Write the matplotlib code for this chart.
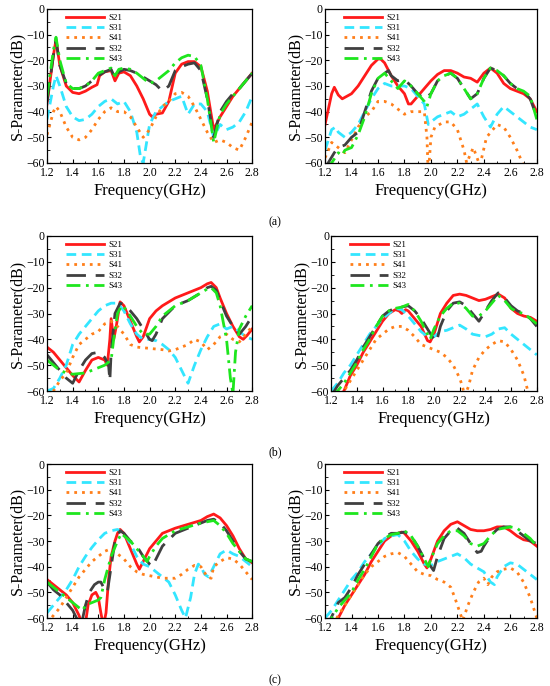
import matplotlib
matplotlib.use("Agg")
import matplotlib.pyplot as plt
from matplotlib.ticker import MultipleLocator

plt.rcParams["font.family"] = ["Liberation Serif", "DejaVu Serif"]

SERIES = ["S21", "S31", "S41", "S32", "S43"]
PANEL_LABELS = ["(a)", "(b)", "(c)"]

# ---- panel (a) left: (frequency GHz, dB) ----
A1_S21 = [(1.20, -37), (1.25, -18), (1.27, -12), (1.30, -22), (1.35, -30), (1.40, -32.5),
          (1.45, -33), (1.50, -32), (1.55, -30.5), (1.59, -29.5), (1.61, -26), (1.65, -24.5),
          (1.70, -24), (1.73, -28), (1.76, -25), (1.80, -24.5), (1.85, -26), (1.90, -30),
          (1.95, -35), (2.00, -41), (2.02, -42), (2.05, -41), (2.10, -40.5), (2.15, -36),
          (2.20, -25), (2.25, -21.5), (2.30, -20.5), (2.35, -20.5), (2.40, -22.5), (2.45, -32),
          (2.50, -47), (2.55, -42), (2.60, -38), (2.65, -34), (2.70, -31), (2.75, -28), (2.80, -25)]
A1_S31 = [(1.20, -43), (1.25, -30), (1.27, -26), (1.30, -30), (1.35, -38), (1.40, -42),
          (1.45, -43.5), (1.50, -43), (1.55, -41), (1.60, -38), (1.65, -36), (1.70, -35),
          (1.75, -37), (1.80, -36), (1.85, -40), (1.90, -48), (1.93, -58), (1.95, -60),
          (2.00, -45), (2.05, -40), (2.10, -38), (2.15, -36), (2.20, -35), (2.25, -34),
          (2.30, -41), (2.35, -37), (2.40, -37), (2.45, -40), (2.50, -50), (2.55, -45),
          (2.60, -47), (2.65, -46), (2.70, -44), (2.75, -40), (2.80, -34)]
A1_S41 = [(1.20, -49), (1.25, -40), (1.27, -38), (1.30, -40), (1.35, -46), (1.40, -50),
          (1.45, -51), (1.50, -50), (1.55, -47), (1.60, -43), (1.65, -40), (1.70, -38.5),
          (1.75, -40), (1.80, -40), (1.85, -42), (1.90, -46), (1.95, -50), (2.00, -47),
          (2.05, -42), (2.10, -38), (2.15, -36), (2.20, -33), (2.25, -32.5), (2.30, -34),
          (2.35, -38), (2.40, -43), (2.45, -48), (2.50, -52), (2.55, -51), (2.60, -52),
          (2.65, -54), (2.70, -55), (2.75, -50), (2.80, -44)]
A1_S32 = [(1.20, -36), (1.25, -18), (1.27, -12), (1.30, -22), (1.35, -29), (1.40, -31),
          (1.45, -31), (1.50, -30), (1.55, -28), (1.60, -26), (1.65, -24.5), (1.70, -23.5),
          (1.73, -27), (1.76, -24.5), (1.80, -23.5), (1.85, -24), (1.90, -25), (1.95, -26.5),
          (2.00, -28), (2.05, -29.5), (2.10, -32), (2.15, -30), (2.20, -24), (2.25, -22.5),
          (2.30, -21.5), (2.35, -21), (2.40, -24), (2.45, -35), (2.50, -50), (2.55, -40),
          (2.60, -36), (2.65, -33), (2.70, -31), (2.75, -28), (2.80, -25)]
A1_S43 = [(1.20, -34), (1.25, -16), (1.27, -11), (1.30, -20), (1.35, -29), (1.40, -31),
          (1.45, -31), (1.50, -30), (1.55, -28), (1.60, -25), (1.65, -24), (1.70, -23),
          (1.73, -26), (1.76, -23.5), (1.80, -23), (1.85, -23.5), (1.90, -25), (1.95, -27),
          (2.00, -29), (2.05, -28), (2.10, -26), (2.15, -24), (2.20, -21), (2.25, -19),
          (2.30, -18), (2.35, -18.5), (2.40, -22), (2.45, -35), (2.50, -52), (2.55, -41),
          (2.60, -37), (2.65, -34), (2.70, -31), (2.75, -28), (2.80, -25)]

# ---- panel (a) right ----
A2_S21 = [(1.20, -45), (1.25, -33), (1.27, -30.5), (1.30, -33.5), (1.33, -35), (1.40, -33),
          (1.45, -30), (1.50, -26), (1.55, -22), (1.60, -19.5), (1.62, -19.5), (1.65, -21),
          (1.70, -26), (1.75, -30), (1.80, -33), (1.83, -37), (1.85, -37), (1.90, -34),
          (1.95, -31), (2.00, -28), (2.05, -25.5), (2.10, -24), (2.15, -24), (2.20, -25),
          (2.25, -26.5), (2.30, -27), (2.35, -28.5), (2.40, -25), (2.45, -23), (2.50, -25),
          (2.55, -29), (2.60, -31), (2.65, -32), (2.70, -33), (2.75, -35), (2.80, -40)]
A2_S31 = [(1.20, -55), (1.25, -47), (1.28, -46), (1.30, -48), (1.35, -50), (1.40, -48),
          (1.45, -45), (1.50, -40), (1.55, -35), (1.60, -31), (1.65, -29), (1.70, -30),
          (1.75, -30), (1.80, -30), (1.85, -31), (1.90, -34), (1.95, -37), (1.98, -45),
          (2.00, -44), (2.05, -42), (2.10, -41), (2.15, -40), (2.20, -42), (2.25, -41),
          (2.30, -39), (2.35, -37), (2.40, -42), (2.45, -46), (2.50, -41), (2.55, -38),
          (2.60, -40), (2.65, -42), (2.70, -44), (2.75, -46), (2.80, -47)]
A2_S41 = [(1.20, -58), (1.25, -52), (1.30, -54), (1.35, -56), (1.40, -51), (1.45, -46),
          (1.50, -42), (1.55, -40), (1.60, -36), (1.65, -36), (1.70, -37), (1.75, -39),
          (1.80, -41), (1.85, -40), (1.90, -40), (1.95, -40), (1.97, -50), (1.98, -65),
          (2.00, -50), (2.03, -46), (2.10, -44), (2.15, -44), (2.20, -47), (2.25, -55),
          (2.27, -60), (2.32, -54), (2.37, -61), (2.42, -50), (2.50, -45), (2.55, -46),
          (2.60, -50), (2.65, -55), (2.70, -61), (2.75, -66)]
A2_S32 = [(1.20, -62), (1.27, -56), (1.30, -54), (1.35, -53), (1.40, -50), (1.45, -48),
          (1.50, -40), (1.55, -32), (1.60, -27), (1.65, -25), (1.68, -24), (1.70, -26),
          (1.75, -28), (1.80, -27.5), (1.85, -30), (1.90, -33), (1.95, -35), (2.00, -33),
          (2.05, -28), (2.10, -26), (2.15, -25), (2.20, -27), (2.25, -31), (2.30, -35),
          (2.35, -33), (2.40, -27), (2.45, -23), (2.50, -24), (2.55, -26), (2.60, -29),
          (2.65, -31), (2.70, -32), (2.75, -35), (2.80, -42)]
A2_S43 = [(1.20, -62), (1.25, -60), (1.30, -56), (1.33, -57), (1.35, -55), (1.40, -54),
          (1.45, -49), (1.50, -42), (1.55, -33), (1.60, -27), (1.65, -25), (1.70, -28),
          (1.75, -31), (1.80, -28), (1.85, -30), (1.90, -33), (1.95, -36), (1.97, -38),
          (2.00, -33), (2.05, -28), (2.10, -26), (2.15, -25), (2.20, -27), (2.25, -31),
          (2.30, -35), (2.35, -33), (2.40, -27), (2.45, -23), (2.50, -24), (2.55, -26),
          (2.60, -29), (2.65, -31), (2.70, -32), (2.75, -34), (2.80, -43)]

# ---- panel (b) left ----
B1_S21 = [(1.20, -43), (1.25, -45), (1.30, -48), (1.35, -51), (1.40, -54), (1.45, -56.5),
          (1.50, -52), (1.55, -48), (1.60, -47), (1.65, -48), (1.67, -50), (1.69, -40),
          (1.70, -32), (1.72, -40), (1.74, -35), (1.77, -25.5), (1.80, -27), (1.85, -33),
          (1.90, -39), (1.92, -41), (1.95, -39), (2.00, -32), (2.05, -29), (2.10, -27),
          (2.20, -24), (2.30, -22), (2.40, -20), (2.45, -18.5), (2.48, -18), (2.52, -20),
          (2.55, -24), (2.60, -30), (2.65, -35), (2.70, -39), (2.73, -40), (2.76, -38.5),
          (2.80, -36)]
B1_S31 = [(1.20, -60), (1.25, -59), (1.30, -55), (1.35, -50), (1.40, -42), (1.45, -38),
          (1.50, -35), (1.55, -32), (1.60, -29), (1.65, -27), (1.70, -26), (1.75, -26),
          (1.80, -29), (1.85, -34), (1.90, -38), (1.95, -40), (2.00, -40), (2.05, -40.5),
          (2.10, -42), (2.15, -44), (2.20, -47), (2.25, -52), (2.30, -57), (2.35, -50),
          (2.40, -44), (2.45, -39), (2.50, -35), (2.55, -34), (2.60, -36), (2.65, -35),
          (2.70, -37), (2.75, -39), (2.80, -40)]
B1_S41 = [(1.20, -62), (1.25, -60), (1.30, -56), (1.35, -53), (1.40, -47), (1.45, -42),
          (1.50, -40), (1.55, -38), (1.60, -37), (1.65, -34), (1.70, -33), (1.75, -35),
          (1.80, -38), (1.85, -42), (1.90, -43), (2.00, -43.5), (2.10, -44), (2.15, -44.5),
          (2.20, -44), (2.30, -42), (2.35, -40), (2.40, -41), (2.45, -44), (2.50, -42),
          (2.55, -39), (2.60, -38), (2.65, -40), (2.70, -41), (2.75, -38), (2.80, -35)]
B1_S32 = [(1.20, -46), (1.25, -49), (1.30, -52), (1.35, -55), (1.40, -57), (1.45, -52),
          (1.50, -48), (1.55, -45.5), (1.60, -45), (1.65, -47), (1.68, -50), (1.69, -56),
          (1.70, -45), (1.73, -30), (1.77, -26), (1.80, -26.5), (1.85, -29), (1.90, -32),
          (1.95, -36), (2.00, -40), (2.02, -40.5), (2.05, -38), (2.10, -32), (2.20, -27),
          (2.30, -25), (2.40, -22), (2.45, -20), (2.48, -19.5), (2.52, -21), (2.55, -25),
          (2.60, -31), (2.65, -35), (2.70, -38), (2.75, -35), (2.80, -31)]
B1_S43 = [(1.20, -48), (1.25, -50), (1.30, -52), (1.35, -53), (1.40, -53.5), (1.50, -53),
          (1.55, -52), (1.60, -51), (1.65, -50), (1.70, -48), (1.72, -40), (1.75, -30),
          (1.78, -27), (1.80, -27.5), (1.85, -31), (1.90, -35), (1.95, -38), (2.00, -38),
          (2.05, -35), (2.10, -31), (2.20, -27), (2.30, -25), (2.40, -22), (2.45, -20.5),
          (2.48, -20), (2.52, -22), (2.55, -27), (2.60, -40), (2.63, -55), (2.65, -61),
          (2.67, -45), (2.70, -36), (2.75, -31), (2.80, -27)]

# ---- panel (b) right ----
B2_S21 = [(1.20, -65), (1.30, -60), (1.35, -54), (1.40, -50), (1.45, -45), (1.50, -41),
          (1.55, -37), (1.60, -33), (1.65, -30), (1.70, -28.5), (1.73, -29), (1.75, -30),
          (1.78, -28.5), (1.80, -29), (1.85, -32), (1.90, -35), (1.95, -40.5), (1.97, -41),
          (2.00, -38), (2.05, -30), (2.10, -26), (2.15, -23), (2.20, -22.5), (2.25, -23),
          (2.30, -24), (2.35, -25), (2.40, -24.5), (2.45, -23.5), (2.50, -22.5), (2.55, -24),
          (2.60, -28), (2.65, -30), (2.70, -31), (2.75, -31.5), (2.80, -33)]
B2_S31 = [(1.20, -60), (1.25, -57), (1.30, -53), (1.35, -50), (1.40, -46), (1.45, -42),
          (1.50, -38), (1.55, -35), (1.60, -32), (1.65, -30), (1.70, -28), (1.75, -28.5),
          (1.80, -31), (1.85, -34), (1.90, -37), (1.95, -39), (2.00, -39), (2.05, -37),
          (2.10, -36.5), (2.15, -35.5), (2.20, -34.5), (2.25, -36), (2.30, -38), (2.35, -38.5),
          (2.40, -39), (2.45, -38), (2.50, -36), (2.55, -35.5), (2.60, -38), (2.65, -40),
          (2.70, -42), (2.75, -44), (2.80, -46)]
B2_S41 = [(1.20, -70), (1.30, -60), (1.35, -56), (1.40, -52), (1.45, -48), (1.50, -44),
          (1.55, -40), (1.60, -38), (1.65, -36), (1.70, -35), (1.75, -35), (1.80, -36.5),
          (1.85, -39), (1.90, -42), (1.95, -43), (2.00, -44), (2.05, -45), (2.10, -47),
          (2.15, -50), (2.20, -55), (2.22, -58), (2.24, -62), (2.27, -58), (2.30, -52),
          (2.35, -47), (2.40, -44), (2.45, -42), (2.50, -40.5), (2.55, -41), (2.60, -44),
          (2.65, -48), (2.70, -54), (2.73, -60), (2.75, -64)]
B2_S32 = [(1.20, -62), (1.25, -58), (1.30, -55), (1.35, -52), (1.40, -48), (1.45, -43),
          (1.50, -39), (1.55, -35), (1.60, -31), (1.65, -29), (1.70, -28), (1.75, -27.5),
          (1.80, -27), (1.85, -29), (1.90, -32), (1.95, -36), (2.00, -40), (2.02, -41),
          (2.05, -35), (2.10, -29), (2.15, -26), (2.20, -25.5), (2.25, -27), (2.30, -30),
          (2.35, -33), (2.40, -29), (2.45, -25), (2.50, -22), (2.55, -24), (2.60, -27),
          (2.65, -29), (2.70, -30), (2.75, -32), (2.80, -35)]
B2_S43 = [(1.20, -62), (1.25, -60), (1.30, -57), (1.35, -53), (1.40, -49), (1.45, -44),
          (1.50, -40), (1.55, -35), (1.60, -31), (1.65, -29), (1.70, -28), (1.75, -27.5),
          (1.80, -26.5), (1.85, -29), (1.90, -33), (1.95, -38), (1.97, -40), (2.00, -36),
          (2.05, -31), (2.10, -28), (2.15, -26), (2.20, -26), (2.25, -28), (2.30, -31),
          (2.35, -31), (2.40, -29), (2.45, -26), (2.50, -23), (2.55, -25), (2.60, -28),
          (2.65, -29.5), (2.70, -30), (2.75, -32), (2.80, -34)]

# ---- panel (c) left ----
C1_S21 = [(1.20, -45), (1.25, -47), (1.30, -49), (1.35, -51), (1.40, -54), (1.45, -59),
          (1.47, -62), (1.50, -62), (1.52, -55), (1.55, -51), (1.58, -50), (1.60, -52),
          (1.62, -58), (1.64, -63), (1.66, -58), (1.68, -45), (1.70, -36), (1.73, -30),
          (1.75, -27), (1.77, -25.5), (1.80, -27), (1.85, -33), (1.90, -39), (1.92, -41),
          (1.95, -38), (2.00, -33), (2.05, -30), (2.10, -27), (2.20, -25), (2.30, -23.5),
          (2.40, -22), (2.45, -20.5), (2.50, -19.5), (2.55, -21), (2.60, -24), (2.65, -28),
          (2.70, -33), (2.75, -37), (2.80, -38.5)]
C1_S31 = [(1.20, -58), (1.25, -55), (1.30, -52), (1.35, -49), (1.40, -45), (1.45, -40),
          (1.50, -36), (1.55, -32.5), (1.60, -29.5), (1.65, -27), (1.70, -26), (1.75, -25.5),
          (1.80, -27), (1.85, -31), (1.90, -36), (1.95, -39), (2.00, -40), (2.05, -42),
          (2.10, -44), (2.15, -46), (2.20, -51), (2.25, -57), (2.28, -60), (2.32, -52),
          (2.35, -43), (2.38, -39), (2.40, -40), (2.43, -43), (2.46, -44), (2.50, -40),
          (2.55, -35), (2.60, -33.5), (2.65, -35), (2.70, -36), (2.75, -38), (2.80, -40)]
C1_S41 = [(1.20, -62), (1.25, -59), (1.30, -56), (1.35, -52), (1.40, -48), (1.45, -44),
          (1.50, -41), (1.55, -38), (1.60, -36), (1.65, -34), (1.70, -33), (1.75, -35),
          (1.80, -37), (1.85, -40), (1.90, -42), (1.95, -43), (2.00, -43.5), (2.10, -44.5),
          (2.20, -44.5), (2.25, -43), (2.30, -41), (2.35, -39.5), (2.40, -40), (2.45, -44),
          (2.48, -44.5), (2.50, -40), (2.55, -38), (2.60, -36.5), (2.65, -37), (2.70, -39),
          (2.75, -42), (2.80, -45)]
C1_S32 = [(1.20, -46), (1.25, -49), (1.30, -51), (1.35, -54), (1.40, -57), (1.43, -60),
          (1.47, -62), (1.50, -55), (1.53, -50), (1.57, -47), (1.60, -46), (1.62, -46),
          (1.65, -49), (1.67, -50), (1.70, -40), (1.73, -30), (1.77, -26), (1.80, -27),
          (1.85, -30), (1.90, -32), (1.95, -36), (2.00, -39), (2.02, -40), (2.05, -37),
          (2.10, -32), (2.20, -27), (2.30, -25), (2.40, -23), (2.45, -22), (2.50, -21.5),
          (2.55, -23), (2.60, -26), (2.65, -30), (2.70, -34), (2.75, -37), (2.80, -38)]
C1_S43 = [(1.20, -46), (1.25, -48), (1.30, -50), (1.35, -52), (1.40, -54), (1.45, -56),
          (1.48, -57), (1.50, -55), (1.55, -54), (1.60, -53), (1.62, -52), (1.65, -45),
          (1.70, -36), (1.75, -30), (1.78, -27), (1.80, -28), (1.85, -30), (1.90, -33),
          (1.95, -36), (1.98, -38), (2.00, -36), (2.05, -32), (2.10, -29), (2.20, -26),
          (2.30, -24.5), (2.40, -23), (2.45, -22.5), (2.50, -22), (2.55, -24), (2.60, -27),
          (2.65, -31), (2.70, -34), (2.75, -37), (2.80, -38)]

# ---- panel (c) right ----
C2_S21 = [(1.20, -68), (1.30, -60), (1.35, -55), (1.40, -51), (1.45, -47), (1.50, -43),
          (1.55, -38), (1.60, -34), (1.65, -30), (1.70, -28), (1.75, -27), (1.78, -26.5),
          (1.80, -27), (1.85, -30), (1.90, -34), (1.95, -39), (1.97, -40.5), (2.00, -37),
          (2.05, -30), (2.10, -26), (2.15, -23.5), (2.20, -22.5), (2.25, -24), (2.30, -25.5),
          (2.35, -26), (2.40, -26), (2.45, -25.5), (2.50, -24.5), (2.55, -24.5), (2.60, -26),
          (2.65, -28), (2.70, -29.5), (2.75, -30), (2.80, -32)]
C2_S31 = [(1.20, -60), (1.25, -57), (1.30, -53), (1.35, -49), (1.40, -45), (1.45, -42),
          (1.50, -38), (1.55, -35), (1.60, -32), (1.65, -29), (1.70, -28), (1.75, -27.5),
          (1.80, -30), (1.85, -34), (1.90, -37), (1.95, -39), (2.00, -39.5), (2.05, -38),
          (2.10, -37), (2.15, -36), (2.20, -35), (2.25, -36.5), (2.30, -39), (2.35, -40.5),
          (2.40, -42), (2.45, -46), (2.48, -47), (2.50, -44), (2.55, -40), (2.60, -38.5),
          (2.65, -39), (2.70, -41), (2.75, -43), (2.80, -45)]
C2_S41 = [(1.20, -68), (1.30, -59), (1.35, -55), (1.40, -51), (1.45, -47), (1.50, -43),
          (1.55, -40), (1.60, -38), (1.65, -36), (1.70, -35), (1.75, -34.5), (1.80, -36),
          (1.85, -39), (1.90, -42), (1.95, -43), (2.00, -43.5), (2.05, -45), (2.10, -46),
          (2.15, -48), (2.18, -52), (2.22, -58), (2.24, -61), (2.28, -55), (2.32, -50),
          (2.36, -46), (2.40, -44.5), (2.43, -47), (2.46, -44), (2.50, -42), (2.55, -41),
          (2.60, -40.5), (2.65, -42), (2.70, -46), (2.75, -52), (2.80, -60)]
C2_S32 = [(1.20, -65), (1.30, -54), (1.35, -52), (1.40, -48), (1.45, -43), (1.50, -39),
          (1.55, -35), (1.60, -31), (1.65, -28.5), (1.70, -27), (1.75, -27), (1.80, -26.5),
          (1.85, -28), (1.90, -32), (1.95, -37), (2.00, -40), (2.02, -41.5), (2.05, -36),
          (2.10, -29), (2.15, -26), (2.20, -25), (2.25, -27), (2.30, -31), (2.35, -34.5),
          (2.38, -34), (2.40, -32), (2.45, -28), (2.50, -25.5), (2.55, -24.5), (2.60, -24.5),
          (2.65, -26), (2.70, -28), (2.75, -30), (2.80, -31)]
C2_S43 = [(1.20, -64), (1.25, -60), (1.30, -56), (1.35, -53), (1.40, -50), (1.45, -45),
          (1.50, -41), (1.55, -36), (1.60, -31), (1.65, -29), (1.70, -27.5), (1.75, -27),
          (1.80, -26), (1.85, -28), (1.90, -32), (1.95, -37), (1.98, -40), (2.00, -37),
          (2.05, -31), (2.10, -28), (2.15, -26), (2.20, -26), (2.25, -28), (2.30, -31),
          (2.35, -32), (2.40, -31), (2.45, -28), (2.50, -25.5), (2.55, -25), (2.60, -24.5),
          (2.65, -25), (2.70, -27), (2.75, -29), (2.80, -32)]

PANELS = [
    [A1_S21, A1_S31, A1_S41, A1_S32, A1_S43],
    [A2_S21, A2_S31, A2_S41, A2_S32, A2_S43],
    [B1_S21, B1_S31, B1_S41, B1_S32, B1_S43],
    [B2_S21, B2_S31, B2_S41, B2_S32, B2_S43],
    [C1_S21, C1_S31, C1_S41, C1_S32, C1_S43],
    [C2_S21, C2_S31, C2_S41, C2_S32, C2_S43],
]

# line styles per series
styles = {
    "S21": dict(color="#ff1a1a", linestyle="-", linewidth=2.0),
    "S31": dict(color="#33e6ff", linestyle=(0, (3.5, 2)), linewidth=2.0),
    "S41": dict(color="#ff7f1a", linestyle=(0, (1, 1.8)), linewidth=2.0),
    "S32": dict(color="#404040", linestyle=(0, (7, 3.5)), linewidth=2.0),
    "S43": dict(color="#1ee61e", linestyle=(0, (5, 2, 1, 2)), linewidth=2.0),
}

# axes rectangles in figure fraction [left, bottom, width, height]
rects = [
    [0.0855, 0.7624, 0.373, 0.2245],
    [0.591, 0.7624, 0.385, 0.2245],
    [0.0855, 0.430, 0.373, 0.226],
    [0.602, 0.430, 0.374, 0.226],
    [0.0855, 0.0991, 0.373, 0.2245],
    [0.591, 0.0991, 0.385, 0.2245],
]

fig = plt.figure(figsize=(5.5, 6.86), dpi=100)

for rect, data in zip(rects, PANELS):
    ax = fig.add_axes(rect)
    for name, pts in zip(SERIES, data):
        xs = [p[0] for p in pts]
        ys = [p[1] for p in pts]
        ax.plot(xs, ys, label=name, **styles[name])
    ax.set_xlim(1.2, 2.8)
    ax.set_ylim(-60, 0)
    ax.xaxis.set_major_locator(MultipleLocator(0.2))
    ax.xaxis.set_minor_locator(MultipleLocator(0.1))
    ax.yaxis.set_major_locator(MultipleLocator(10))
    ax.yaxis.set_minor_locator(MultipleLocator(5))
    ax.tick_params(which="both", direction="in", labelsize=8.5)
    ax.tick_params(axis="x", pad=3)
    ax.tick_params(axis="y", pad=1.5)
    ax.tick_params(which="major", length=3, width=0.8)
    ax.tick_params(which="minor", length=1.8, width=0.6)
    ax.xaxis.set_major_formatter(lambda v, pos: f"{v:.1f}")
    for sp in ax.spines.values():
        sp.set_linewidth(0.9)
    ax.set_xlabel("Frequency(GHz)", fontsize=12, labelpad=3)
    ax.set_ylabel("S-Parameter(dB)", fontsize=11.5, labelpad=1)
    ax.legend(loc="upper left", frameon=False, fontsize=6.5, handlelength=4.2,
              handletextpad=0.5, labelspacing=0.22, borderaxespad=0.1,
              bbox_to_anchor=(0.07, 1.0))

for label, y in zip(PANEL_LABELS, [0.676, 0.341, 0.009]):
    fig.text(0.5, y, label, ha="center", va="center", fontsize=8.5)

fig.savefig("out.png", dpi=100)
